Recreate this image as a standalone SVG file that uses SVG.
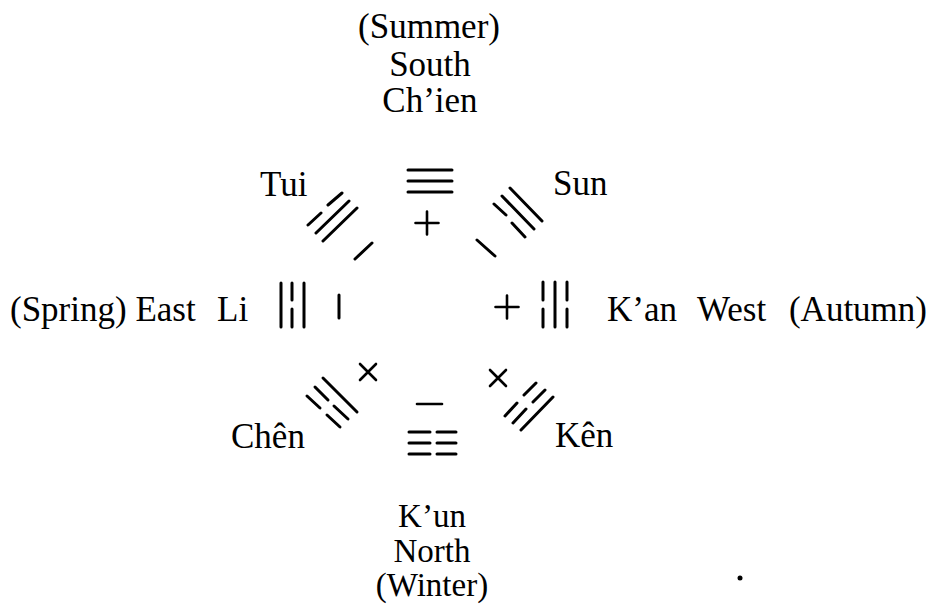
<svg xmlns="http://www.w3.org/2000/svg" width="932" height="604" viewBox="0 0 932 604">
<style>
text{font-family:"Liberation Serif","Times New Roman",serif;font-size:35px;fill:#000}
.m{text-anchor:middle}
.e{text-anchor:end}
.s{font-size:33px}
.l{stroke:#000;stroke-width:3;stroke-linecap:round;fill:none}
.t{stroke:#000;stroke-width:2.6;stroke-linecap:round;fill:none}
</style>
<rect width="932" height="604" fill="#fff"/>
<g id="chien">
<text class="m" x="429" y="38">(Summer)</text>
<text class="m" x="430" y="76">South</text>
<text class="m" x="430" y="112">Ch’ien</text>
<path class="l" d="M408 170H452M408 181H452M408 192H452"/>
<path class="t" d="M415.5 223H438.5M427 211.5V234.5"/>
</g>
<g id="sun">
<text x="553" y="195">Sun</text>
<path class="l" d="M510 188L542 221M502 196L534 229M494 204L506 215M512 223L525 237M477 240L495 256"/>
</g>
<g id="tui">
<text x="260" y="196">Tui</text>
<path class="l" d="M308 225L321 213M328 205L342 193M316 233L349 201M323 241L357 208M355 259L372 243"/>
</g>
<g id="li">
<text x="10" y="321">(Spring) East</text>
<text x="217" y="321">Li</text>
<path class="l" d="M281 283V327M292 283V300M292 309V327M304 283V327M339 295V318"/>
</g>
<g id="kan">
<text x="607" y="321">K’an</text>
<text x="697" y="321">West</text>
<text class="e" x="927" y="321">(Autumn)</text>
<path class="t" d="M495.5 307H518.5M507 295.5V318.5"/>
<path class="l" d="M543 282V300M543 309V327M555 282V327M567 282V300M567 309V327"/>
</g>
<g id="chen">
<text x="231" y="448">Chên</text>
<path class="t" d="M360 364L376 380M376 364L360 380"/>
<path class="l" d="M323 378L357 412M315 387L328 400M334 406L348 419M307 396L320 408M327 415L340 427"/>
</g>
<g id="kun">
<text class="m s" x="432" y="527">K’un</text>
<text class="m s" x="432" y="562">North</text>
<text class="m s" x="432" y="596">(Winter)</text>
<path class="t" d="M417 404H442"/>
<path class="l" d="M409 432H430M437 432H456M409 443H430M437 443H456M409 454H430M437 454H456"/>
</g>
<g id="ken">
<text x="555" y="447">Kên</text>
<path class="t" d="M490 370L506 386M506 370L490 386"/>
<path class="l" d="M505 416L517 403M524 395L536 383M513 423L526 409M533 402L545 390M521 430L553 397"/>
</g>
<g id="connectors"></g>
<circle cx="740" cy="578" r="2.5" fill="#000"/>
</svg>
